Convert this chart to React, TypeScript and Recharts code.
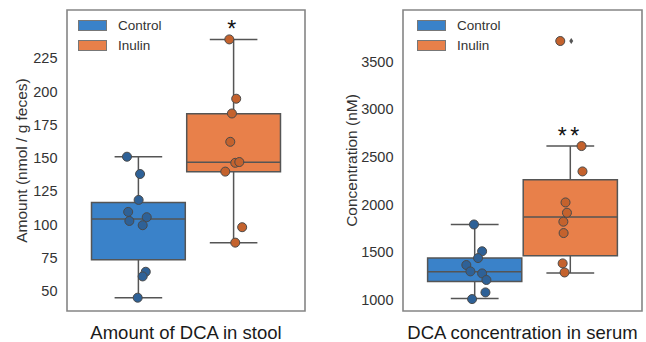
import {
  ComposedChart,
  Scatter,
  XAxis,
  YAxis,
  ZAxis,
  ReferenceArea,
  ReferenceLine,
  ReferenceDot,
  Legend,
} from 'recharts';

const FONT = '"Liberation Sans", Arial, Helvetica, sans-serif';

const groups = ['Control', 'Inulin'];
// hue-dodged box centres on a single x category
const groupPos = [-0.2, 0.2];

// --- DCA in stool (nmol / g feces) ---
const stoolControl = [151, 138, 118.5, 109.5, 102.7, 105.5, 99.5, 64.5, 61, 45];
const stoolControlJitter = [-0.048, 0.007, 0.001, -0.043, -0.038, 0.035, 0.018, 0.031, 0.018, -0.003];
const stoolInulin = [239.2, 194.6, 183.5, 162.2, 146.4, 147, 139.8, 98, 86.4];
const stoolInulinJitter = [-0.018, 0.011, -0.007, -0.014, 0.007, 0.024, -0.035, 0.036, 0.007];
// [whisker low, q1, median, q3, whisker high]
const stoolControlBox = [45, 73.6, 104.2, 116.5, 151];
const stoolInulinBox = [86.4, 139.6, 146.9, 183.3, 239.2];
const stoolTicks = [50, 75, 100, 125, 150, 175, 200, 225];

// --- DCA in serum (nM) ---
const serumControl = [1792, 1511, 1440, 1367, 1300, 1279, 1210, 1080, 1010];
const serumControlJitter = [-0.003, 0.031, 0.014, -0.035, -0.018, 0.031, 0.049, 0.045, -0.011];
const serumInulin = [3715, 2614, 2348, 2023, 1915, 1821, 1702, 1384, 1289];
const serumInulinJitter = [-0.042, 0.047, 0.051, -0.02, -0.014, -0.029, -0.028, -0.032, -0.024];
const serumControlBox = [1017, 1195, 1297, 1440, 1792];
const serumInulinBox = [1283, 1464, 1870, 2261, 2614];
const serumInulinFliers = [3715];
const serumTicks = [1000, 1500, 2000, 2500, 3000, 3500];

const boxFill = ['#3a82c9', '#e8804a'];
const dotFill = ['#2e6197', '#c4622d'];
const LINE = '#555555';
const FRAME = '#858585';

const toPoints = (vals: number[], jitter: number[], g: number) =>
  vals.map((v, i) => ({ x: groupPos[g] + jitter[i], y: v }));

// small flier diamond like seaborn's default
const FlierDiamond = (props: any) => {
  const { cx, cy } = props;
  return <path d={`M${cx},${cy - 3} L${cx + 2},${cy} L${cx},${cy + 3} L${cx - 2},${cy} Z`} fill="#555" />;
};

function LegendBox() {
  return (
    <div style={{ fontFamily: FONT, fontSize: 13.5, color: '#333', lineHeight: '19.5px' }}>
      {groups.map((g, i) => (
        <div key={g} style={{ display: 'flex', alignItems: 'center' }}>
          <span
            style={{
              display: 'inline-block',
              width: 27,
              height: 9,
              background: boxFill[i],
              border: '0.6px solid #777',
              marginRight: 11,
            }}
          />
          {g}
        </div>
      ))}
    </div>
  );
}

interface PanelProps {
  left: number;
  width: number;
  yAxisWidth: number;
  marginRight: number;
  domain: [number, number];
  ticks: number[];
  yLabel: string;
  yLabelOffset: number;
  xLabel: string;
  boxes: number[][];
  points: { x: number; y: number }[][];
  fliers?: number[];
  star: string;
  starY: number;
  legendLeft: number;
}

function Panel(p: PanelProps) {
  return (
    <div style={{ position: 'absolute', left: p.left, top: 0 }}>
      <ComposedChart
        width={p.width}
        height={342}
        margin={{ top: 10, right: p.marginRight, bottom: 0, left: 0 }}
      >
        <XAxis
          type="number"
          dataKey="x"
          domain={[-0.5, 0.5]}
          tick={false}
          tickLine={false}
          axisLine={false}
          height={31}
          label={{
            value: p.xLabel,
            position: 'insideBottom',
            offset: 3,
            fill: '#1a1a1a',
            fontSize: 18.5,
            fontFamily: FONT,
          }}
        />
        <YAxis
          type="number"
          dataKey="y"
          domain={p.domain}
          ticks={p.ticks}
          allowDataOverflow
          width={p.yAxisWidth}
          tickLine={false}
          axisLine={false}
          tickSize={0}
          tickMargin={9.5}
          tick={{ fill: '#333', fontSize: 14.5, fontFamily: FONT }}
          label={{
            value: p.yLabel,
            angle: -90,
            position: 'insideLeft',
            offset: p.yLabelOffset,
            fill: '#333',
            fontSize: 15.5,
            fontFamily: FONT,
            style: { textAnchor: 'middle' },
          }}
        />
        <ZAxis range={[34, 34]} />

        {p.boxes.map((b, i) => {
          const x = groupPos[i];
          return [
            <ReferenceLine key={`wl${i}`} segment={[{ x, y: b[0] }, { x, y: b[1] }]} stroke={LINE} strokeWidth={1.5} />,
            <ReferenceLine key={`wh${i}`} segment={[{ x, y: b[3] }, { x, y: b[4] }]} stroke={LINE} strokeWidth={1.5} />,
            <ReferenceLine key={`cl${i}`} segment={[{ x: x - 0.1, y: b[0] }, { x: x + 0.1, y: b[0] }]} stroke={LINE} strokeWidth={1.5} />,
            <ReferenceLine key={`ch${i}`} segment={[{ x: x - 0.1, y: b[4] }, { x: x + 0.1, y: b[4] }]} stroke={LINE} strokeWidth={1.5} />,
            <ReferenceArea
              key={`bx${i}`}
              x1={x - 0.197}
              x2={x + 0.197}
              y1={b[1]}
              y2={b[3]}
              fill={boxFill[i]}
              fillOpacity={1}
              stroke={LINE}
              strokeWidth={1.5}
            />,
            <ReferenceLine key={`md${i}`} segment={[{ x: x - 0.197, y: b[2] }, { x: x + 0.197, y: b[2] }]} stroke={LINE} strokeWidth={1.5} />,
          ];
        })}

        <ReferenceArea
          x1={-0.5}
          x2={0.5}
          y1={p.domain[0]}
          y2={p.domain[1]}
          fill="none"
          stroke={FRAME}
          strokeWidth={1.6}
        />

        {p.fliers && (
          <Scatter
            data={p.fliers.map((v) => ({ x: groupPos[1] + 0.004, y: v }))}
            shape={FlierDiamond}
            isAnimationActive={false}
          />
        )}
        {p.points.map((pts, i) => (
          <Scatter
            key={groups[i]}
            data={pts}
            fill={dotFill[i]}
            stroke="#4a4a4a"
            strokeWidth={1}
            isAnimationActive={false}
          />
        ))}

        <ReferenceDot
          x={groupPos[1]}
          y={p.starY}
          r={0}
          fill="none"
          stroke="none"
          label={{
            value: p.star,
            position: 'center',
            fill: '#111',
            fontSize: 23,
            fontFamily: FONT,
            style: { letterSpacing: 3.5 },
          }}
        />

        <Legend
          layout="horizontal"
          verticalAlign="middle"
          align="center"
          content={() => <LegendBox />}
          wrapperStyle={{ top: 16, left: p.legendLeft, width: 'auto' }}
        />
      </ComposedChart>
    </div>
  );
}

export default function App() {
  return (
    <div style={{ position: 'absolute', left: 0, top: 0, width: 646, height: 342, background: '#fff' }}>
      <Panel
        left={0}
        width={320}
        yAxisWidth={67}
        marginRight={15}
        domain={[35, 261.3]}
        ticks={stoolTicks}
        yLabel="Amount (nmol / g feces)"
        yLabelOffset={21}
        xLabel="Amount of DCA in stool"
        boxes={[stoolControlBox, stoolInulinBox]}
        points={[toPoints(stoolControl, stoolControlJitter, 0), toPoints(stoolInulin, stoolInulinJitter, 1)]}
        star="*"
        starY={247.5}
        legendLeft={78}
      />
      <Panel
        left={320}
        width={326}
        yAxisWidth={83}
        marginRight={4}
        domain={[885, 4040]}
        ticks={serumTicks}
        yLabel="Concentration (nM)"
        yLabelOffset={31}
        xLabel="DCA concentration in serum"
        boxes={[serumControlBox, serumInulinBox]}
        points={[toPoints(serumControl, serumControlJitter, 0), toPoints(serumInulin, serumInulinJitter, 1)]}
        fliers={serumInulinFliers}
        star="**"
        starY={2719}
        legendLeft={97}
      />
    </div>
  );
}
